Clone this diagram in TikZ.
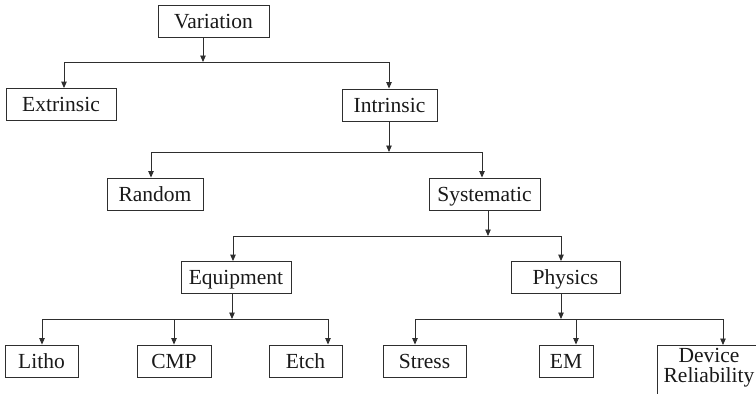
\documentclass[tikz,border=0pt]{standalone}
\usepackage{fontspec}
\setmainfont{Liberation Serif}
\usetikzlibrary{arrows.meta}
\definecolor{linec}{HTML}{2E2E2E}
\begin{document}
\begin{tikzpicture}[x=1pt,y=-1pt,
 txt/.style={font=\fontsize{21.5}{20}\selectfont, text=black!90},
 box/.style={txt, draw=linec, line width=0.9pt, rectangle, inner sep=0pt, minimum height=32pt, text height=14pt, text depth=0pt},
 conn/.style={draw=linec, line width=0.9pt},
 arr/.style={conn, -{Triangle[length=6.5pt,width=5.5pt]}}]
\useasboundingbox (0,0) rectangle (756,394);
\clip (0,0) rectangle (756,394);
% nodes
\node[box, minimum width=111pt] (var) at (213.5,21) {Variation};
\node[box, minimum width=110pt] (ext) at (61,104.5) {Extrinsic};
\node[box, minimum width=95pt] (intr) at (389.5,105) {Intrinsic};
\node[box, minimum width=96pt] (rand) at (155,194) {Random};
\node[box, minimum width=111pt] (sys) at (484.5,194) {Systematic};
\node[box, minimum width=110pt] (equip) at (236,277.5) {Equipment};
\node[box, minimum width=109pt] (phys) at (565.5,277.5) {Physics};
\node[box, minimum width=73pt] (litho) at (41.5,361) {Litho};
\node[box, minimum width=74pt] (cmp) at (174,361) {CMP};
\node[box, minimum width=73pt] (etch) at (305.5,361) {Etch};
\node[box, minimum width=83pt] (stress) at (424.5,361) {Stress};
\node[box, minimum width=54pt] (em) at (566,361) {EM};
\node[draw=linec, line width=0.9pt, rectangle, inner sep=0pt, minimum width=106pt, minimum height=70pt, anchor=north] (dev) at (710,345) {};
\node[txt, align=center, inner sep=0pt] (devlbl) at (709,368) {Device\\Reliability};
% junctions
\coordinate (j1) at (203,62);
\coordinate (j2) at (389,152);
\coordinate (j3) at (488,236);
\coordinate (j4) at (232,319);
\coordinate (j5) at (561,319);
% level 1
\draw[arr] (var.south -| j1) -- (j1);
\draw[arr] (j1) -| ([xshift=3pt]ext.north);
\draw[arr] (j1) -| ([xshift=-0.5pt]intr.north);
% level 2
\draw[arr] (intr.south -| j2) -- (j2);
\draw[arr] (j2) -| ([xshift=-4pt]rand.north);
\draw[arr] (j2) -| ([xshift=-2.5pt]sys.north);
% level 3
\draw[arr] (sys.south -| j3) -- (j3);
\draw[arr] (j3) -| ([xshift=-3pt]equip.north);
\draw[arr] (j3) -| ([xshift=-4.5pt]phys.north);
% level 4a
\draw[arr] (equip.south -| j4) -- (j4);
\draw[arr] (j4) -| ([xshift=0.5pt]litho.north);
\draw[arr] (j4) -| (cmp.north);
\draw[arr] (j4) -| ([xshift=22.5pt]etch.north);
% level 4b
\draw[arr] (phys.south -| j5) -- (j5);
\draw[arr] (j5) -| ([xshift=-9.5pt]stress.north);
\draw[arr] (j5) -| ([xshift=10pt]em.north);
\draw[arr] (j5) -| ([xshift=13pt]dev.north);
\end{tikzpicture}
\end{document}
